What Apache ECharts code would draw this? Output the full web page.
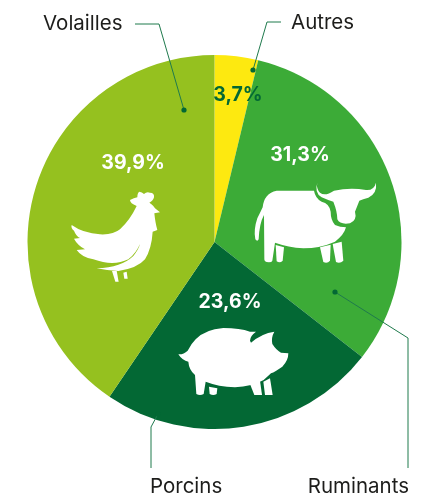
<!DOCTYPE html>
<html>
<head>
<meta charset="utf-8">
<style>html,body{margin:0;padding:0;background:#fff}#chart{width:439px;height:498px}</style>
<script src="https://cdn.jsdelivr.net/npm/echarts@6/dist/echarts.min.js"></script>
</head>
<body>
<div id="chart"></div>
<script>
// Meat production shares, clockwise from twelve o'clock
const categories = ['Autres', 'Ruminants', 'Porcins', 'Volailles'];
const shares = [3.7, 31.3, 23.6, 39.9];
const sliceColors = ['#fde910', '#3cab37', '#036834', '#95c11f'];
const shareLabelColors = ['#036834', '#ffffff', '#ffffff', '#ffffff'];

// Centre of each percentage label
const shareLabelAnchors = [[238, 95], [300, 155], [230, 302], [133, 163]];

// Category caption and its leader line: text anchor, then line vertices ending on the dot
const callouts = {
  Autres: { text: [291, 23], align: 'left', line: [[281, 22], [267, 22], [253, 70]] },
  Ruminants: { text: [409, 487], align: 'right', line: [[408, 468], [408, 338], [335, 292]] },
  Porcins: { text: [150, 487], align: 'left', line: [[151, 468], [151, 427], [158, 414]] },
  Volailles: { text: [43, 24], align: 'left', line: [[135, 24], [159, 24], [184, 110]] }
};

// Silhouettes, drawn on a 3x grid and scaled down at their origin
const chickenIcon = {
  origin: [50, 170],
  paths: [
    'M65 165 Q100 190 150 193 Q190 195 210 178 Q240 150 260 108 Q240 100 240 90 Q252 84 262 82 Q262 68 268 65 Q276 66 282 72 Q290 64 300 68 Q314 68 312 82 Q310 92 298 98 Q312 108 315 115 L330 127 L313 130 Q316 160 322 180 L308 185 Q305 235 285 268 Q262 295 205 303 Q170 302 140 295 Q215 292 250 258 Q266 238 270 222 Q258 250 235 268 Q190 290 130 268 Q95 262 80 240 L105 238 Q82 225 72 206 L90 204 Q78 198 72 182 Q62 175 65 165 Z',
    'M186 303 L200 303 L206 335 L196 335 Z',
    'M220 308 L230 305 L233 326 L223 326 Z'
  ]
};
const cowIcon = {
  origin: [240, 170],
  paths: [
    'M232 38 Q228 55 240 68 Q255 80 282 62 Q330 52 378 60 Q402 62 408 38 Q412 70 385 83 Q368 88 358 92 L345 125 Q352 150 330 160 Q300 165 292 148 Q292 125 280 95 Q262 90 245 82 Q222 68 232 38 Z',
    'M110 62 L222 62 Q226 85 245 95 Q268 100 272 125 Q272 150 285 165 Q300 172 318 172 Q312 195 285 215 Q240 235 190 235 Q145 232 105 218 L97 272 Q95 278 80 276 Q72 274 73 265 L72 135 Q58 160 56 208 Q52 216 46 208 Q40 180 52 145 Q62 125 68 112 Q72 70 110 62 Z',
    'M107 225 L132 232 L128 272 Q120 280 110 274 Z',
    'M240 232 L272 224 L270 272 Q262 282 250 276 Z',
    'M278 222 L305 215 L310 272 Q300 282 288 276 Z'
  ]
};
const pigIcon = {
  origin: [165, 320],
  paths: [
    'M40 103 Q56 104 68 92 Q78 72 92 58 Q120 28 175 24 Q225 24 255 35 L273 35 Q255 48 255 62 L258 68 Q290 40 328 35 Q318 52 322 72 Q335 92 348 98 L370 100 Q370 122 352 140 Q330 155 318 160 L296 180 Q260 200 210 202 Q160 200 122 185 L116 222 Q105 228 94 222 L90 165 Q72 150 70 125 Q52 122 40 103 Z',
    'M132 200 L157 205 L155 222 Q145 228 134 222 Z',
    'M255 192 L285 182 L291 225 L268 225 Z',
    'M295 185 L315 175 L323 225 L300 225 Z'
  ]
};

const formatShare = v => v.toFixed(1).replace('.', ',') + '%';

const iconParts = [chickenIcon, cowIcon, pigIcon].flatMap(icon =>
  icon.paths.map(d => ({ origin: icon.origin, d }))
);

const calloutGraphics = categories.flatMap(name => {
  const c = callouts[name];
  const dot = c.line[c.line.length - 1];
  return [
    {
      type: 'polyline',
      z: 20,
      silent: true,
      shape: { points: c.line },
      style: { stroke: '#1f7a4d', lineWidth: 1, fill: null }
    },
    {
      type: 'circle',
      z: 21,
      silent: true,
      shape: { cx: dot[0], cy: dot[1], r: 2.6 },
      style: { fill: '#036834' }
    },
    {
      type: 'text',
      z: 21,
      silent: true,
      x: c.text[0],
      y: c.text[1],
      style: {
        text: name,
        fill: '#1d1d1b',
        font: '400 20.5px Inter, "Open Sans", sans-serif',
        textAlign: c.align,
        textVerticalAlign: 'middle'
      }
    }
  ];
});

const chart = echarts.init(document.getElementById('chart'), null, { renderer: 'canvas' });
chart.setOption({
  animation: false,
  backgroundColor: '#ffffff',
  series: [{
    type: 'pie',
    center: [214.5, 242],
    radius: [0, 187],
    startAngle: 90,
    clockwise: true,
    silent: true,
    itemStyle: { borderWidth: 0 },
    label: {
      show: true,
      position: 'inside',
      fontFamily: 'Inter, "Open Sans", sans-serif',
      fontWeight: 700,
      fontSize: 19.5,
      formatter: p => formatShare(p.value)
    },
    labelLine: { show: false },
    labelLayout: p => ({
      x: shareLabelAnchors[p.dataIndex][0],
      y: shareLabelAnchors[p.dataIndex][1],
      align: 'center',
      verticalAlign: 'middle'
    }),
    data: categories.map((name, i) => ({
      name,
      value: shares[i],
      itemStyle: { color: sliceColors[i] },
      label: { color: shareLabelColors[i] }
    }))
  }, {
    // White animal silhouettes laid over the slices
    type: 'custom',
    coordinateSystem: 'none',
    silent: true,
    z: 10,
    data: iconParts.map((_, i) => i),
    renderItem: (params) => {
      const part = iconParts[params.dataIndex];
      return {
        type: 'path',
        x: part.origin[0],
        y: part.origin[1],
        scaleX: 1 / 3,
        scaleY: 1 / 3,
        shape: { pathData: part.d },
        style: { fill: '#ffffff' }
      };
    }
  }],
  graphic: { elements: calloutGraphics }
});
</script>
</body>
</html>
